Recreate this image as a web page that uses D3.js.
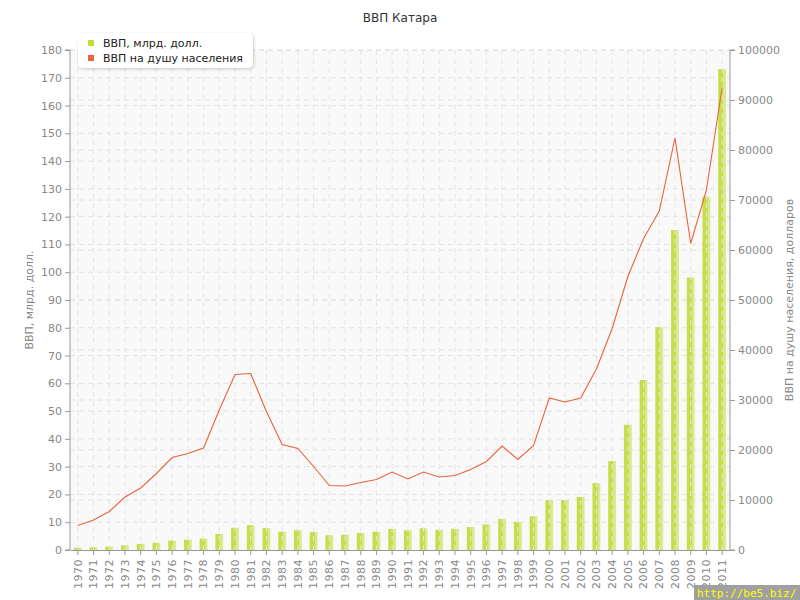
<!DOCTYPE html>
<html><head><meta charset="utf-8">
<script src="https://cdn.jsdelivr.net/npm/d3@7/dist/d3.min.js"></script>
<style>body{margin:0;background:#fff}svg{display:block;font-family:"DejaVu Sans",Verdana,sans-serif}</style>
</head><body><svg id="c" width="800" height="600"></svg>
<script>
const years = d3.range(1970, 2012).map(String);
const gdp = [0.8,1.0,1.2,1.7,2.2,2.6,3.4,3.7,4.1,5.8,8.0,8.9,7.9,6.6,7.1,6.4,5.3,5.5,6.1,6.6,7.6,7.1,7.8,7.3,7.6,8.3,9.2,11.2,10.1,12.1,18.0,18.0,19.1,24.1,32.0,45.1,61.2,80.2,115.2,98.1,127.2,173.1];
const perCapita = [4900,6000,7700,10600,12400,15300,18500,19300,20400,28000,35100,35300,27700,21100,20300,16700,12900,12800,13500,14100,15600,14200,15600,14600,14900,16100,17700,20800,18100,20900,30400,29600,30400,36200,44300,54700,62300,67800,82400,61300,72000,92500];
const leftTicks = d3.range(0, 181, 10);
const rightTicks = d3.range(0, 100001, 10000);
const seriesNames = ["ВВП, млрд. долл.", "ВВП на душу населения"];
const seriesColors = ["#bedd3a", "#e8643a"];

const svg = d3.select("#c");
const L = 70, R = 730, T = 50, B = 550;
const x = d3.scaleBand().domain(years).range([L, R]).paddingInner(0.5).paddingOuter(0.25);
const xc = d => x(d) + x.bandwidth() / 2;
const yL = d3.scaleLinear().domain([0, 180]).range([B, T]);
const yR = d3.scaleLinear().domain([0, 100000]).range([B, T]);

const defs = svg.append("defs");
const g = defs.append("linearGradient").attr("id", "bg").attr("x1", 0).attr("x2", 1).attr("y1", 0).attr("y2", 0);
g.append("stop").attr("offset", "0%").attr("stop-color", "#c4df4a");
g.append("stop").attr("offset", "62%").attr("stop-color", "#c4df4a");
g.append("stop").attr("offset", "66%").attr("stop-color", "#d6ea88");
g.append("stop").attr("offset", "100%").attr("stop-color", "#dbeb97");
const f = defs.append("filter").attr("id", "sh").attr("x", "-20%").attr("y", "-30%").attr("width", "140%").attr("height", "170%");
f.append("feDropShadow").attr("dx", 1).attr("dy", 1).attr("stdDeviation", 1.5).attr("flood-color", "#000").attr("flood-opacity", 0.2);

// title
svg.append("text").attr("x", 400).attr("y", 22).attr("text-anchor", "middle").attr("font-size", 12).attr("fill", "#333").text("ВВП Катара");

// plot background
svg.append("rect").attr("x", L).attr("y", T).attr("width", R - L).attr("height", B - T).attr("fill", "#f9f9f9");

// horizontal grids
const grid = svg.append("g").attr("stroke", "#e2e2e2").attr("stroke-dasharray", "5,4").attr("fill", "none");
grid.selectAll(".hl").data(leftTicks.slice(1)).join("line").attr("x1", L).attr("x2", R).attr("y1", d => yL(d)).attr("y2", d => yL(d));
grid.selectAll(".hr").data(rightTicks.slice(1)).join("line").attr("class", "hr").attr("x1", L).attr("x2", R).attr("y1", d => yR(d)).attr("y2", d => yR(d));

// bars
svg.append("g").selectAll("rect").data(years).join("rect")
  .attr("x", d => x(d)).attr("width", x.bandwidth())
  .attr("y", (d, i) => yL(gdp[i])).attr("height", (d, i) => B - yL(gdp[i]))
  .attr("fill", "url(#bg)");

// vertical grid (over bars)
svg.append("g").attr("stroke", "#e6e6e6").attr("stroke-dasharray", "5,4").selectAll("line").data(years).join("line")
  .attr("x1", d => xc(d)).attr("x2", d => xc(d)).attr("y1", T).attr("y2", B);

// line
svg.append("path").datum(perCapita).attr("fill", "none").attr("stroke", seriesColors[1]).attr("stroke-width", 1.1)
  .attr("d", d3.line().x((d, i) => xc(years[i])).y(d => yR(d)));

// axes
const axL = svg.append("g").attr("transform", `translate(${L},0)`).call(d3.axisLeft(yL).tickValues(leftTicks).tickSize(5).tickPadding(3));
const axR = svg.append("g").attr("transform", `translate(${R},0)`).call(d3.axisRight(yR).tickValues(rightTicks).tickFormat(d3.format("d")).tickSize(5).tickPadding(3));
const axB = svg.append("g").attr("transform", `translate(0,${B})`).call(d3.axisBottom(x).tickSize(5).tickSizeOuter(0));
[axL, axR, axB].forEach(a => {
  a.select(".domain").attr("stroke", "#999");
  a.selectAll(".tick line").attr("stroke", "#999");
  a.selectAll("text").attr("fill", "#888").attr("font-size", 11).attr("font-family", "DejaVu Sans, sans-serif");
});
axL.select(".domain").attr("d", `M-5,${T}H0V${B}H-5`);
axR.select(".domain").attr("d", `M5,${T}H0V${B}H5`);
axB.selectAll("text").attr("transform", "rotate(-90)").attr("text-anchor", "end").attr("x", -9).attr("y", 0).attr("dy", "0.35em").attr("letter-spacing", "0.5px");

// axis titles
svg.append("text").attr("transform", "translate(33,300) rotate(-90)").attr("text-anchor", "middle").attr("font-size", 11).attr("fill", "#888").text("ВВП, млрд. долл.");
svg.append("text").attr("transform", "translate(793,300) rotate(-90)").attr("text-anchor", "middle").attr("font-size", 11).attr("fill", "#888").text("ВВП на душу населения, долларов");

// legend
const lg = svg.append("g");
lg.append("rect").attr("x", 78).attr("y", 33).attr("width", 175).attr("height", 35).attr("rx", 5).attr("fill", "#fff").attr("filter", "url(#sh)");
seriesNames.forEach((n, i) => {
  lg.append("rect").attr("x", 88).attr("y", 40 + i * 15).attr("width", 6).attr("height", 6).attr("fill", seriesColors[i]);
  lg.append("text").attr("x", 103).attr("y", 47 + i * 15).attr("font-size", 11).attr("fill", "#222").text(n);
});

// watermark
svg.append("rect").attr("x", 694).attr("y", 585).attr("width", 106).attr("height", 15).attr("fill", "#a0a0a0");
svg.append("text").attr("x", 697).attr("y", 597).attr("font-family", "DejaVu Sans Mono, monospace").attr("font-size", 11).attr("fill", "#ffff00").text("http://be5.biz/");
</script></body></html>
